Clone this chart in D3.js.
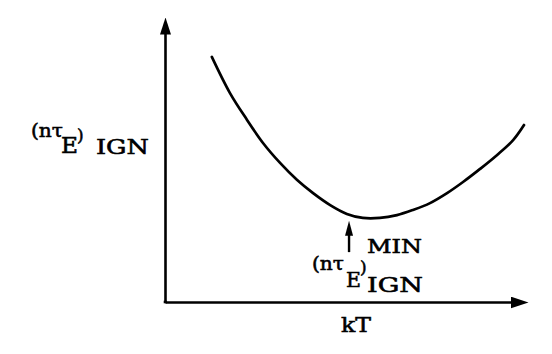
<!DOCTYPE html>
<html>
<head>
<meta charset="utf-8">
<script src="https://cdn.jsdelivr.net/npm/d3@7"></script>
<style>
  html, body { margin: 0; padding: 0; background: #fff; }
  svg { display: block; }
</style>
</head>
<body>
<svg id="chart" width="552" height="354"></svg>
<script>
// Curve: (n tau_E)_IGN versus kT (arbitrary units, 0-100 on each axis)
const kT = [12.9, 17.9, 22.6, 27.0, 31.7, 36.4, 40.8, 45.5, 50.1, 54.5, 59.2, 63.9, 68.3, 73.0, 77.7, 82.1, 86.8, 91.5, 95.9, 98.9];
const nTauIgn = [86.0, 73.3, 63.9, 55.8, 48.8, 42.8, 38.2, 34.0, 30.9, 29.5, 29.5, 30.5, 32.3, 34.7, 38.2, 42.1, 46.7, 51.6, 56.8, 62.1];
// Minimum marker arrow (kT position, arrow base and tip values)
const minKT = [50.7];
const minArrow = [17.5, 28.5];
const xLabel = ["kT"];

const FONT = "'DejaVu Serif', 'Liberation Serif', serif";

const svg = d3.select("#chart");
const x = d3.scaleLinear().domain([0, 100]).range([165, 528]);
const y = d3.scaleLinear().domain([0, 100]).range([302, 17]);

const defs = svg.append("defs");
function marker(id, len, wid) {
  defs.append("marker")
    .attr("id", id)
    .attr("viewBox", `0 0 ${len} ${wid}`)
    .attr("refX", 1).attr("refY", wid / 2)
    .attr("markerUnits", "userSpaceOnUse")
    .attr("markerWidth", len).attr("markerHeight", wid)
    .attr("orient", "auto")
    .append("path")
    .attr("d", `M0,0 L${len},${wid / 2} L0,${wid} Z`)
    .attr("fill", "#000");
}
marker("headY", 17, 11);
marker("headX", 18, 12);
marker("headS", 15, 8);

// Axes (no ticks), domain lines end just before the arrow heads
const xAxisScale = x.copy().range([165, 528 - 17]);
const yAxisScale = y.copy().range([302, 17 + 16]);

const gx = svg.append("g").attr("transform", `translate(0,${302})`)
  .call(d3.axisBottom(xAxisScale).tickValues([]).tickSizeOuter(0));
gx.select(".domain").attr("stroke", "#000").attr("stroke-width", 2.6)
  .attr("marker-end", "url(#headX)");

const gy = svg.append("g").attr("transform", `translate(${165},0)`)
  .call(d3.axisLeft(yAxisScale).tickValues([]).tickSizeOuter(0));
gy.select(".domain").attr("stroke", "#000").attr("stroke-width", 2.6)
  .attr("marker-end", "url(#headY)");
svg.append("line").attr("x1", x(0) - 1.3).attr("x2", x(0) + 2).attr("y1", y(0)).attr("y2", y(0))
  .attr("stroke", "#000").attr("stroke-width", 2.6);

// Curve
const pts = kT.map((d, i) => [d, nTauIgn[i]]);
svg.append("path")
  .datum(pts)
  .attr("fill", "none")
  .attr("stroke", "#000")
  .attr("stroke-width", 2.7)
  .attr("stroke-linecap", "round")
  .attr("d", d3.line().x(d => x(d[0])).y(d => y(d[1])).curve(d3.curveCatmullRom.alpha(0.5)));

// Minimum arrow
svg.append("line")
  .attr("x1", x(minKT[0])).attr("x2", x(minKT[0]))
  .attr("y1", y(minArrow[0])).attr("y2", y(minArrow[1]) + 14)
  .attr("stroke", "#000").attr("stroke-width", 2.4)
  .attr("marker-end", "url(#headS)");

// Labels
function label(str, px, py, size, len) {
  const t = svg.append("text").attr("x", px).attr("y", py)
    .attr("font-family", FONT)
    .attr("font-size", size)
    .attr("fill", "#000")
    .attr("stroke", "#000")
    .attr("stroke-width", 0.55)
    .text(str);
  if (len) t.attr("textLength", len).attr("lengthAdjust", "spacingAndGlyphs");
}
// y-axis label (n tau_E)_IGN
label("(nτ", 31, 137, 18, 32);
label("E", 61, 153, 22, 17);
label(")", 77, 141, 17);
label("IGN", 96, 154, 20, 53);

// min label
label("MIN", 367, 253, 18.5, 55);
label("(nτ", 312, 270, 18, 32);
label("E", 346, 287, 21, 15);
label(")", 360, 273, 17);
label("IGN", 367, 292, 19.5, 56);

// x-axis label
label(xLabel[0], 341, 332, 19.5, 30);
</script>
</body>
</html>
